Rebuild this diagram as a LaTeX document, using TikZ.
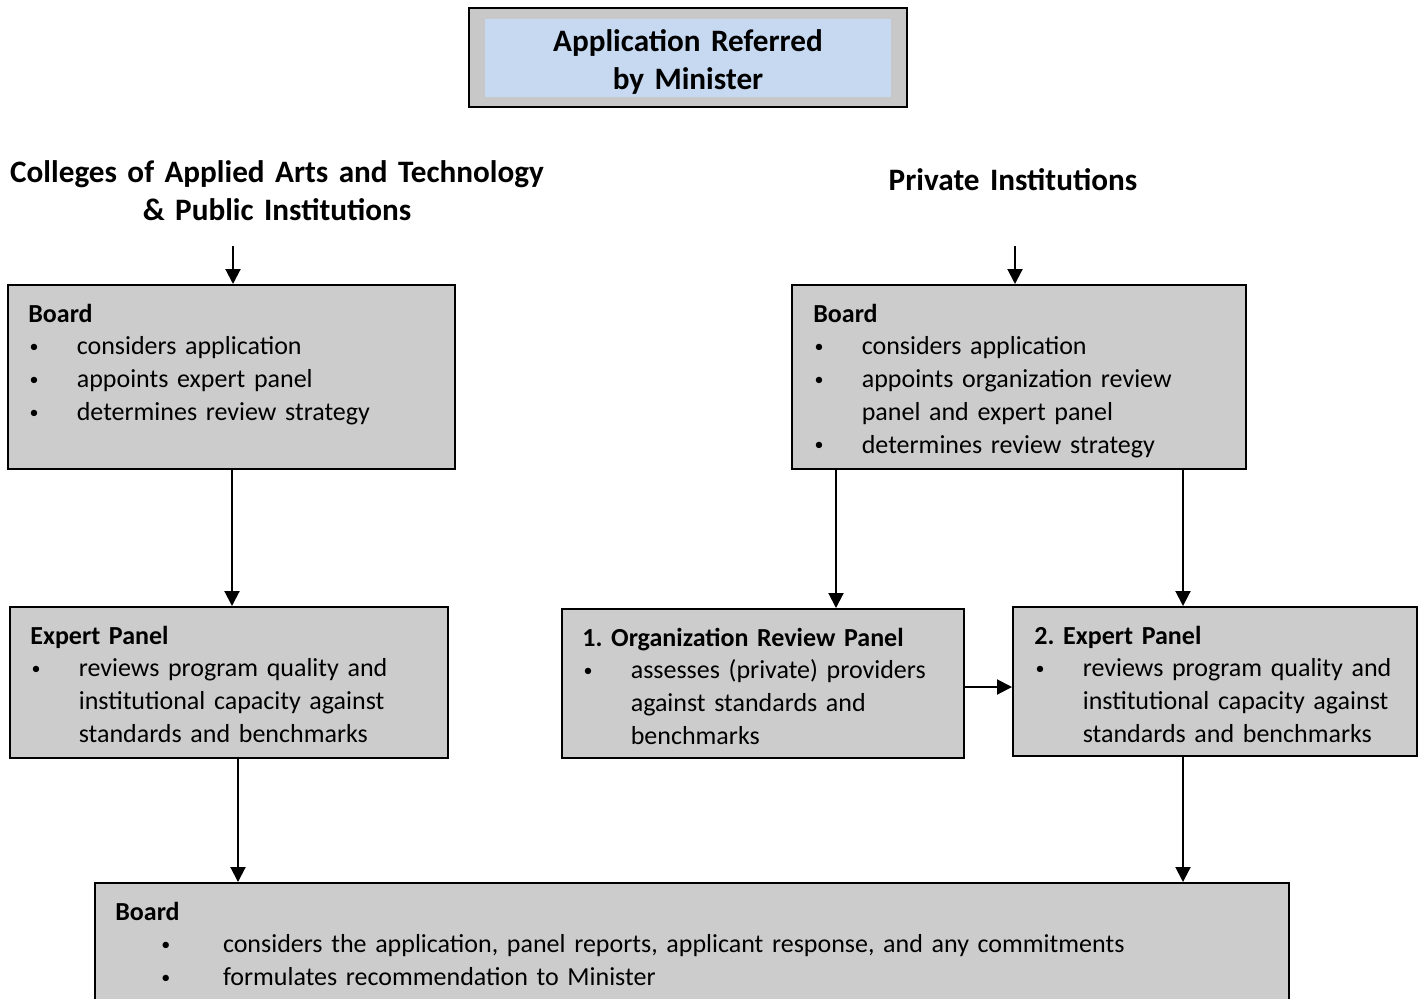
\documentclass[tikz,border=0pt]{standalone}
\usepackage{fontspec}
\setmainfont{Carlito}
\usetikzlibrary{arrows.meta,fit,calc}
\definecolor{boxgray}{HTML}{CCCCCC}
\definecolor{outergray}{HTML}{C8C8C8}
\definecolor{lightblue}{HTML}{C6D9F1}
\newcommand{\smbul}{\raisebox{1.2pt}{\fontsize{9}{9}\selectfont •}}
\newcommand{\bu}{\makebox[24.2pt][l]{\hspace{0.6pt}\smbul}}
\newcommand{\cont}{\hspace*{24.2pt}}
\newcommand{\bub}{\makebox[53.8pt][l]{\hspace{23pt}\smbul}}
\begin{document}
\begin{tikzpicture}[x=0.5pt,y=-0.5pt,
  box/.style={draw=black, line width=1pt, fill=boxgray, inner sep=0pt, rectangle},
  txt/.style={anchor=base west, inner sep=0pt, align=left, text width=#1,
    font=\fontsize{13}{16.4}\selectfont},
  head/.style={anchor=base, inner sep=0pt, align=center, text width=320pt,
    font=\fontsize{15.6}{19.1}\selectfont\bfseries},
  arr/.style={line width=1pt, -{Triangle[width=7.5pt,length=7.5pt]}}]
\useasboundingbox (0,0) rectangle (1423,998);
\clip (0,0) rectangle (1423,998);

% top box
\node[draw=black, line width=1pt, fill=outergray, inner sep=0pt, fit={(469,8) (907,107)}] (top) {};
\node[fill=lightblue, inner sep=0pt, fit={(485,19) (891,97)}] (topin) {};
\node[head] (toptxt) at (688,51.5) {Application Referred\\by Minister};

% headings
\node[head] (hl) at (277,182) {Colleges of Applied Arts and Technology\\\& Public Institutions};
\node[head] (hr) at (1013,190) {Private Institutions};

% boxes
\node[box, fit={(8,285) (455,469)}] (l1) {};
\node[txt=215pt] (l1t) at (28,322) {\textbf{Board}\\
\bu considers application\\
\bu appoints expert panel\\
\bu determines review strategy};

\node[box, fit={(792,285) (1246,469)}] (r1) {};
\node[txt=220pt] (r1t) at (813,322) {\textbf{Board}\\
\bu considers application\\
\bu appoints organization review\\
\cont panel and expert panel\\
\bu determines review strategy};

\node[box, fit={(10,607) (448,758)}] (l2) {};
\node[txt=215pt] (l2t) at (30,644) {\textbf{Expert Panel}\\
\bu reviews program quality and\\
\cont institutional capacity against\\
\cont standards and benchmarks};

\node[box, fit={(562,609) (964,758)}] (orp) {};
\node[txt=200pt] (orpt) at (582,646) {\textbf{1.\ Organization Review Panel}\\
\bu assesses (private) providers\\
\cont against standards and\\
\cont benchmarks};

\node[box, fit={(1013,607) (1417,756)}] (ep2) {};
\node[txt=200pt] (ep2t) at (1034,644) {\textbf{2.\ Expert Panel}\\
\bu reviews program quality and\\
\cont institutional capacity against\\
\cont standards and benchmarks};

\node[box, fit={(95,883) (1289,1040)}] (bot) {};
\node[txt=590pt] (bott) at (115,920) {\textbf{Board}\\
\bub considers the application, panel reports, applicant response, and any commitments\\
\bub formulates recommendation to Minister};

% connectors
\coordinate (s1) at (233,246);
\coordinate (s2) at (1015,246);
\draw[arr] (s1) -- (s1 |- l1.north);
\draw[arr] (s2) -- (s2 |- r1.north);
\draw[arr] ([xshift=112.5pt]l1.south west) coordinate (a1) -- (a1 |- l2.north);
\draw[arr] ([xshift=22.5pt]r1.south west) coordinate (a2) -- (a2 |- orp.north);
\draw[arr] ([xshift=196pt]r1.south west) coordinate (a3) -- (a3 |- ep2.north);
\draw[arr] ([yshift=-1.75pt]orp.east) coordinate (a4) -- (a4 -| ep2.west);
\draw[arr] ([xshift=114.5pt]l2.south west) coordinate (a5) -- (a5 |- bot.north);
\draw[arr] ([xshift=85.5pt]ep2.south west) coordinate (a6) -- (a6 |- bot.north);
\end{tikzpicture}
\end{document}
